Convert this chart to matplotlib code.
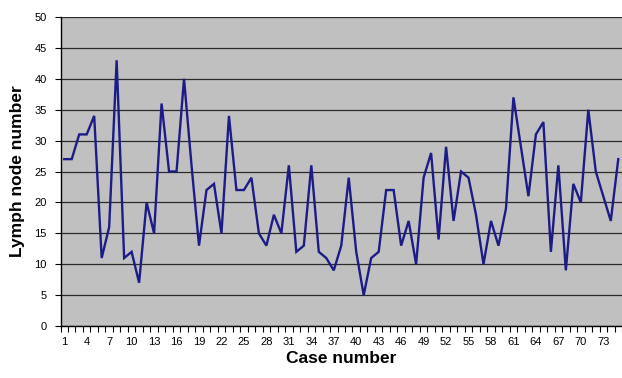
import matplotlib
matplotlib.use("Agg")
import matplotlib.pyplot as plt
from matplotlib.ticker import FixedLocator

plt.rcParams['font.family'] = ['Liberation Sans', 'DejaVu Sans']

cases = list(range(1, 76))
lymph_nodes = [27, 27, 31, 31, 34, 11, 16, 43, 11, 12,
               7, 20, 15, 36, 25, 25, 40, 26, 13, 22,
               23, 15, 34, 22, 22, 24, 15, 13, 18, 15,
               26, 12, 13, 26, 12, 11, 9, 13, 24, 12,
               5, 11, 12, 22, 22, 13, 17, 10, 24, 28,
               14, 29, 17, 25, 24, 18, 10, 17, 13, 19,
               37, 29, 21, 31, 33, 12, 26, 9, 23, 20,
               35, 25, 21, 17, 27]
xtick_labels = [str(v) for v in range(1, 74, 3)]
yticks = list(range(0, 51, 5))

fig = plt.figure(figsize=(6.22, 3.78), dpi=100)
ax = fig.add_axes([60.5 / 622, 52 / 378, 1 - 60.5 / 622, 309 / 378])
ax.set_facecolor('#c0c0c0')

ax.plot(cases, lymph_nodes, color='#1c1c88', lw=1.7, solid_joinstyle='miter', zorder=3)

ax.set_xlim(0.5, 75.5)
ax.set_ylim(0, 50)
ax.set_yticks(yticks)
ax.yaxis.grid(True, color='#2a2a2a', lw=0.9)
ax.set_axisbelow(True)

ax.xaxis.set_major_locator(FixedLocator(list(range(1, 74, 3))))
ax.set_xticklabels(xtick_labels)
ax.xaxis.set_minor_locator(FixedLocator([i + 0.5 for i in range(0, 76)]))
ax.tick_params(axis='x', which='major', length=0, pad=8, labelsize=8, colors='black')
ax.tick_params(axis='x', which='minor', length=4, width=0.8, direction='out')
ax.tick_params(axis='y', which='major', length=4, width=0.8, direction='out', pad=6, labelsize=8)

for s in ['top', 'right']:
    ax.spines[s].set_visible(False)
ax.spines['left'].set_color('black')
ax.spines['bottom'].set_color('black')
ax.spines['left'].set_linewidth(1.0)
ax.spines['bottom'].set_linewidth(1.0)

ax.set_xlabel('Case number', fontsize=12.5, fontweight='bold', labelpad=3)
ax.set_ylabel('Lymph node number', fontsize=12.5, fontweight='bold', labelpad=7)

fig.savefig('out.png', dpi=100)
